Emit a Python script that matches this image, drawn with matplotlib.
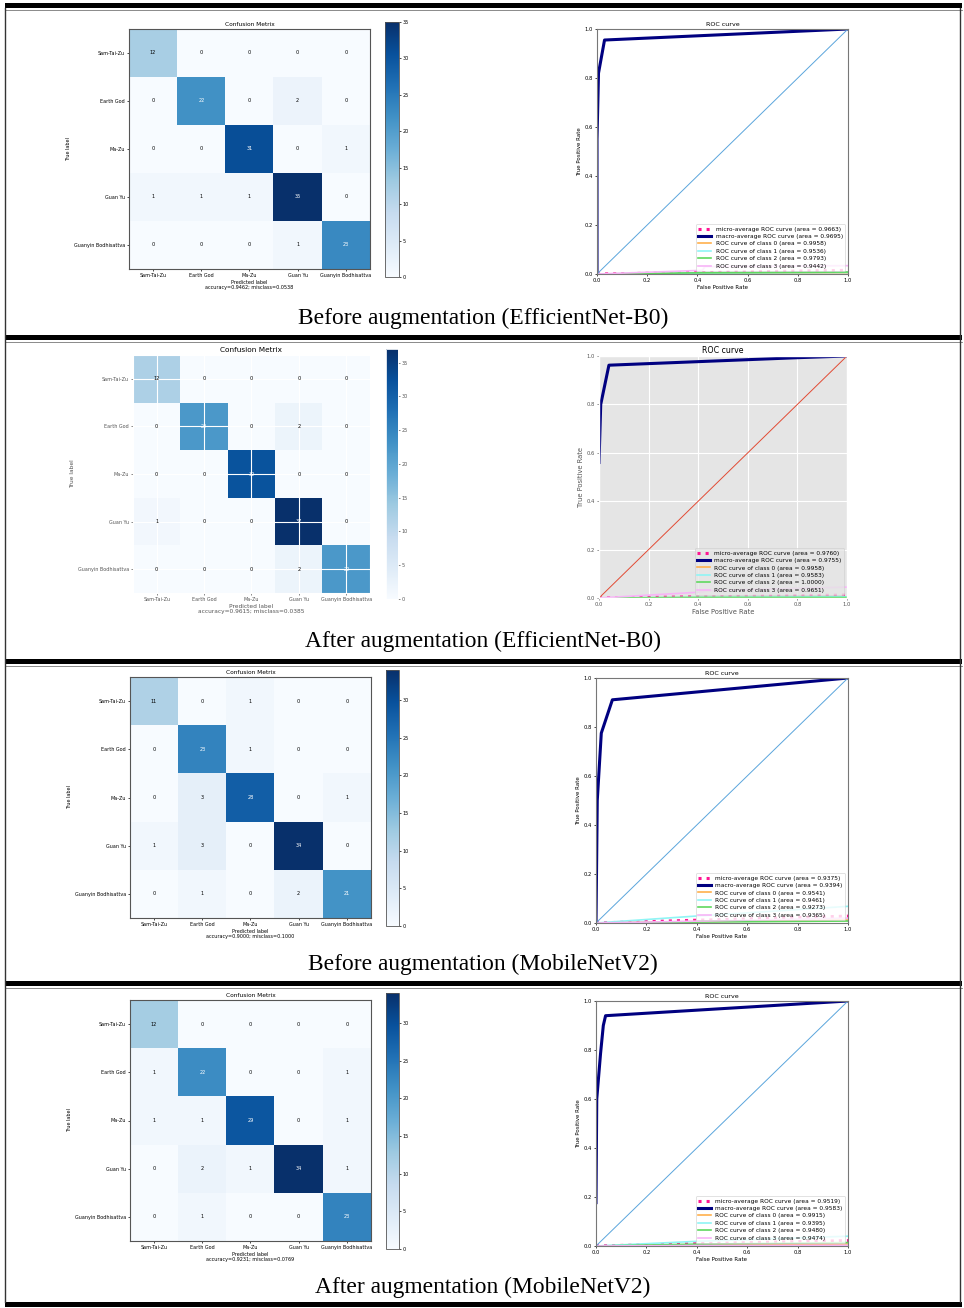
import numpy as np
import matplotlib
matplotlib.use('Agg')
import matplotlib.pyplot as plt
from matplotlib.patches import Rectangle

# CLASSES
classes = ['Sam-Tai-Zu', 'Earth God', 'Ma-Zu', 'Guan Yu', 'Guanyin Bodhisattva']

# CONFUSION MATRICES (rows = true label, cols = predicted)
cm_eff_before = [[12, 0, 0, 0, 0],
                 [0, 22, 0, 2, 0],
                 [0, 0, 31, 0, 1],
                 [1, 1, 1, 35, 0],
                 [0, 0, 0, 1, 23]]
cm_eff_after = [[12, 0, 0, 0, 0],
                [0, 22, 0, 2, 0],
                [0, 0, 32, 0, 0],
                [1, 0, 0, 37, 0],
                [0, 0, 0, 2, 22]]
cm_mob_before = [[11, 0, 1, 0, 0],
                 [0, 23, 1, 0, 0],
                 [0, 3, 28, 0, 1],
                 [1, 3, 0, 34, 0],
                 [0, 1, 0, 2, 21]]
cm_mob_after = [[12, 0, 0, 0, 0],
                [1, 22, 0, 0, 1],
                [1, 1, 29, 0, 1],
                [0, 2, 1, 34, 1],
                [0, 1, 0, 0, 23]]

# ROC - MACRO AVERAGE
roc_eff_before_fpr = [0.0, 0.0, 0.006, 0.03, 1.0]
roc_eff_before_tpr = [0.0, 0.55, 0.82, 0.955, 1.0]
roc_eff_after_fpr = [0.0, 0.007, 0.04, 0.8, 1.0]
roc_eff_after_tpr = [0.56, 0.80, 0.962, 0.993, 1.0]
roc_mob_before_fpr = [0.0, 0.005, 0.021, 0.065, 1.0]
roc_mob_before_tpr = [0.0, 0.5, 0.775, 0.911, 1.0]
roc_mob_after_fpr = [0.0, 0.003, 0.018, 0.029, 0.038, 1.0]
roc_mob_after_tpr = [0.177, 0.6, 0.785, 0.9, 0.94, 1.0]

# ROC - MICRO AVERAGE AND CLASSES 0..3 (all lying near the x axis)
low_fpr = [0.0, 0.42, 0.43, 1.0]
low_eff_before = [[0, 0.006, 0.006, 0.015],
                  [0, 0.003, 0.003, 0.005],
                  [0, 0.004, 0.004, 0.006],
                  [0, 0.005, 0.005, 0.008],
                  [0, 0.015, 0.030, 0.034]]
low_eff_after = [[0, 0.005, 0.005, 0.012],
                 [0, 0.002, 0.002, 0.003],
                 [0, 0.003, 0.003, 0.005],
                 [0, 0.002, 0.002, 0.002],
                 [0, 0.025, 0.030, 0.045]]
low_mob_before = [[0, 0.012, 0.012, 0.028],
                  [0, 0.006, 0.006, 0.012],
                  [0, 0.030, 0.030, 0.068],
                  [0, 0.004, 0.004, 0.008],
                  [0, 0.008, 0.008, 0.020]]
low_mob_after = [[0, 0.010, 0.010, 0.022],
                 [0, 0.004, 0.004, 0.008],
                 [0, 0.020, 0.020, 0.040],
                 [0, 0.008, 0.008, 0.014],
                 [0, 0.002, 0.002, 0.003]]

# AREAS (micro, macro, class 0..3)
area_eff_before = [0.9663, 0.9695, 0.9958, 0.9536, 0.9793, 0.9442]
area_eff_after = [0.9760, 0.9755, 0.9958, 0.9583, 1.0000, 0.9651]
area_mob_before = [0.9375, 0.9394, 0.9541, 0.9461, 0.9273, 0.9365]
area_mob_after = [0.9519, 0.9583, 0.9915, 0.9395, 0.9480, 0.9474]

captions = ['Before augmentation (EfficientNet-B0)',
            'After augmentation (EfficientNet-B0)',
            'Before augmentation (MobileNetV2)',
            'After augmentation (MobileNetV2)']

chance = [0, 1]

# FIGURA
W, H = 964, 1308
fig = plt.figure(figsize=(W / 100, H / 100), dpi=100)


def box(x0, y0, x1, y1):
    # pixel box (from top-left) -> figure fraction
    return [x0 / W, 1 - y1 / H, (x1 - x0) / W, (y1 - y0) / H]


# MOLDURA
frame = fig.add_axes([0, 0, 1, 1])
frame.set_xlim(0, W)
frame.set_ylim(H, 0)
frame.axis('off')
for yb in [3, 335, 659, 981, 1302]:
    frame.add_patch(Rectangle((5, yb), 957, 5, color='black', lw=0))
    if yb < 1300:
        frame.plot([5, 962], [yb + 7, yb + 7], color='#777777', lw=0.6)
frame.plot([5, 5], [8, 1302], color='#333333', lw=1.0)
frame.plot([960, 960], [8, 1302], color='#333333', lw=1.0)

cm_boxes = [(129, 29, 370, 269), (133, 355, 370, 593),
            (130, 677, 371, 918), (130, 1000, 371, 1241)]
cb_boxes = [(385, 22, 399, 277), (386, 349, 398, 599),
            (386, 670, 399, 926), (386, 993, 399, 1249)]
roc_boxes = [(597, 29, 848, 274), (599, 356, 847, 598),
             (596, 678, 848, 923), (596, 1001, 848, 1246)]
caption_y = [318, 641, 964, 1287]

class_colors = ['#ffb04d', '#8ff5f5', '#5fd85f', '#f7b5f7']


def draw_cm(i, cm, big):
    cm = np.array(cm)
    fs_tick = 3.5
    fs_lab = 4.2 if big else 3.5
    fs_tit = 5.3 if big else 4.2
    ax = fig.add_axes(box(*cm_boxes[i]))
    im = ax.imshow(cm, interpolation='nearest', cmap='Blues', aspect='auto')
    ax.set_title('Confusion Metrix', fontsize=fs_tit, pad=2)
    ticks = np.arange(len(classes))
    ax.set_xticks(ticks)
    ax.set_xticklabels(classes)
    ax.set_yticks(ticks)
    ax.set_yticklabels(classes)
    ax.tick_params(labelsize=fs_tick, length=1.5, width=0.5, pad=1.5)
    thresh = cm.max() / 2
    for r in range(cm.shape[0]):
        for c in range(cm.shape[1]):
            ax.text(c, r, '{:,}'.format(cm[r, c]), ha='center', va='center',
                    fontsize=3.6, color='white' if cm[r, c] > thresh else 'black')
    acc = np.trace(cm) / cm.sum()
    ax.set_ylabel('True label', fontsize=fs_lab, labelpad=2)
    ax.set_xlabel('Predicted label\naccuracy={:0.4f}; misclass={:0.4f}'.format(acc, 1 - acc),
                  fontsize=fs_lab, labelpad=1, linespacing=1.0)
    for s in ax.spines.values():
        s.set_linewidth(0.8)
        if not big:
            s.set_color('#555555')
    cax = fig.add_axes(box(*cb_boxes[i]))
    cb = fig.colorbar(im, cax=cax)
    cb.ax.tick_params(labelsize=3.5, length=1.5, width=0.5, pad=1)
    cb.outline.set_linewidth(0.6)
    if not big:
        cb.outline.set_edgecolor('#555555')


def draw_roc(i, mfpr, mtpr, low, areas, big):
    fs_lab = 4.9 if big else 4.0
    fs_tit = 5.7 if big else 4.6
    ax = fig.add_axes(box(*roc_boxes[i]))
    ax.plot(low_fpr, low[0], ':', color='deeppink', lw=2.2,
            label='micro-average ROC curve (area = {0:0.4f})'.format(areas[0]))
    ax.plot(mfpr, mtpr, color='navy', lw=2.2,
            label='macro-average ROC curve (area = {0:0.4f})'.format(areas[1]))
    for k in range(4):
        ax.plot(low_fpr, low[k + 1], color=class_colors[k], lw=1.2,
                label='ROC curve of class {0} (area = {1:0.4f})'.format(k, areas[k + 2]))
    ax.plot(chance, chance, color='#E24A33' if big else '#5aa5dc', lw=0.7)
    ax.set_xlim(0, 1)
    ax.set_ylim(0, 1)
    ax.set_title('ROC curve', fontsize=fs_tit, pad=2)
    ax.set_xlabel('False Positive Rate', fontsize=fs_lab, labelpad=1)
    ax.set_ylabel('True Positive Rate', fontsize=fs_lab, labelpad=2)
    ax.tick_params(labelsize=3.8, length=1.5, width=0.5, pad=1.5)
    if not big:
        for s in ax.spines.values():
            s.set_linewidth(0.8)
            s.set_color('#777777')
    leg = ax.legend(loc='lower right', fontsize=4.2, borderpad=0.4,
                    labelspacing=0.4, handlelength=2.2)
    leg.get_frame().set_linewidth(0.5)


panels = [(cm_eff_before, roc_eff_before_fpr, roc_eff_before_tpr, low_eff_before, area_eff_before),
          (cm_eff_after, roc_eff_after_fpr, roc_eff_after_tpr, low_eff_after, area_eff_after),
          (cm_mob_before, roc_mob_before_fpr, roc_mob_before_tpr, low_mob_before, area_mob_before),
          (cm_mob_after, roc_mob_after_fpr, roc_mob_after_tpr, low_mob_after, area_mob_after)]

for i, (cm, mfpr, mtpr, low, areas) in enumerate(panels):
    if i == 1:
        # second row was drawn with the ggplot style
        with plt.style.context('ggplot'):
            draw_cm(i, cm, True)
            draw_roc(i, mfpr, mtpr, low, areas, True)
    else:
        draw_cm(i, cm, False)
        draw_roc(i, mfpr, mtpr, low, areas, False)
    fig.text(483 / W, 1 - caption_y[i] / H, captions[i], ha='center', va='center',
             fontsize=16.9, family='Liberation Serif')

fig.savefig('out.png', dpi=100)
